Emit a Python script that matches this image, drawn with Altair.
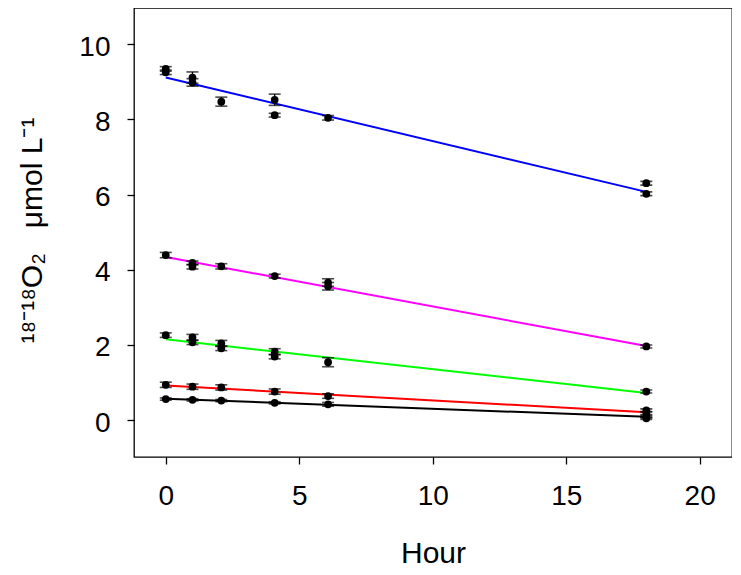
import altair as alt
import pandas as pd

# ---- data ----
SERIES = ["blue", "magenta", "green", "red", "black"]
COLORS = ["#0000FF", "#FF00FF", "#00FF00", "#FF0000", "#000000"]

blue_hours = [0, 0, 1, 1, 2.08, 4.08, 4.08, 6.08, 18, 18]
blue_vals = [9.34, 9.25, 9.11, 8.98, 8.47, 8.52, 8.11, 8.04, 6.30, 6.02]
blue_errs = [0.06, 0.06, 0.15, 0.10, 0.12, 0.15, 0.05, 0.06, 0.05, 0.05]

magenta_hours = [0, 1, 1, 2.08, 4.08, 6.08, 6.08, 18]
magenta_vals = [4.39, 4.18, 4.08, 4.09, 3.83, 3.66, 3.56, 1.96]
magenta_errs = [0.07, 0.05, 0.06, 0.07, 0.05, 0.10, 0.10, 0.04]

green_hours = [0, 1, 1, 2.08, 2.08, 4.08, 4.08, 6.08, 18]
green_vals = [2.26, 2.20, 2.07, 2.04, 1.91, 1.82, 1.69, 1.54, 0.76]
green_errs = [0.06, 0.08, 0.06, 0.08, 0.06, 0.08, 0.06, 0.12, 0.04]

red_hours = [0, 1, 2.08, 4.08, 6.08, 18, 18]
red_vals = [0.94, 0.89, 0.87, 0.76, 0.64, 0.26, 0.19]
red_errs = [0.07, 0.07, 0.07, 0.07, 0.06, 0.04, 0.04]

black_hours = [0, 1, 2.08, 4.08, 6.08, 18, 18]
black_vals = [0.56, 0.54, 0.52, 0.46, 0.42, 0.09, 0.05]
black_errs = [0.03, 0.03, 0.03, 0.03, 0.05, 0.03, 0.03]

# fitted lines as drawn in the reference (value at hour 0 and hour 18)
line_hours = [0, 18]
line_start = [9.11, 4.34, 2.15, 0.92, 0.57]
line_end = [6.07, 1.97, 0.72, 0.21, 0.09]

X_TICKS = [0, 5, 10, 15, 20]
Y_TICKS = [0, 2, 4, 6, 8, 10]

# ---- build tables ----
groups = [
    ("blue", blue_hours, blue_vals, blue_errs),
    ("magenta", magenta_hours, magenta_vals, magenta_errs),
    ("green", green_hours, green_vals, green_errs),
    ("red", red_hours, red_vals, red_errs),
    ("black", black_hours, black_vals, black_errs),
]
rows = []
for name, hs, vs, es in groups:
    for h, v, e in zip(hs, vs, es):
        rows.append({"series": name, "hour": h, "value": v, "lo": v - e, "hi": v + e})
pts = pd.DataFrame(rows)

lrows = []
for name, a, b in zip(SERIES, line_start, line_end):
    lrows.append({"series": name, "hour": line_hours[0], "value": a})
    lrows.append({"series": name, "hour": line_hours[1], "value": b})
lines = pd.DataFrame(lrows)

FONT = "Liberation Sans"
FS = 28

X = alt.X(
    "hour:Q",
    scale=alt.Scale(domain=[-1.19, 21.21], nice=False, zero=False),
    axis=alt.Axis(
        values=X_TICKS, title="Hour", titleFontSize=30, titleFont=FONT,
        titleFontWeight="normal", titleColor="black",
        titleBaseline="alphabetic", titleY=105,
        labelBaseline="alphabetic", labelPadding=40,
        labelFont=FONT, labelFontSize=FS, labelColor="black",
        grid=False, domain=False, ticks=True, tickColor="black", tickSize=7, tickWidth=1.3,
    ),
)
Y = alt.Y(
    "value:Q",
    scale=alt.Scale(domain=[-0.98, 10.96], nice=False, zero=False),
    axis=alt.Axis(
        values=Y_TICKS,
        title="\u00b9\u2078\u207b\u00b9\u2078O\u2082\u00a0\u00a0\u00a0\u03bcmol L\u207b\u00b9",
        titleFontSize=30, titleFont=FONT, titleFontWeight="normal",
        titleColor="black", titleAngle=270, titleBaseline="alphabetic",
        titleAlign="center", titleX=-93, titleY=222,
        labelPadding=17, labelOffset=3, labelBaseline="middle",
        labelFont=FONT, labelFontSize=FS, labelColor="black",
        grid=False, domain=False, ticks=True, tickColor="black", tickSize=7, tickWidth=1.3,
    ),
)
COLOR = alt.Color("series:N", scale=alt.Scale(domain=SERIES, range=COLORS), legend=None)

line_layer = alt.Chart(lines).mark_line(strokeWidth=2).encode(
    x=X, y=Y, color=COLOR, detail="series:N"
)
bars = alt.Chart(pts).mark_rule(color="black", strokeWidth=1.3).encode(
    x=X, y=alt.Y("lo:Q"), y2="hi:Q"
)
cap_lo = alt.Chart(pts).mark_tick(orient="horizontal", size=12, thickness=1.6, color="black").encode(
    x=X, y=alt.Y("lo:Q")
)
cap_hi = alt.Chart(pts).mark_tick(orient="horizontal", size=12, thickness=1.6, color="black").encode(
    x=X, y=alt.Y("hi:Q")
)
dots = alt.Chart(pts).mark_point(filled=True, shape="circle", size=60, color="black", opacity=1).encode(
    x=X, y=Y
)

chart = alt.layer(line_layer, bars, cap_lo, cap_hi, dots).properties(
    width=598, height=449,
    background="white",
    autosize=alt.AutoSizeParams(type="none"),
    padding={"left": 126, "top": 0, "right": 0, "bottom": 110},
).configure_view(
    stroke="black", strokeWidth=1.3
)

chart.save("out.html", embed_options={"renderer": "svg", "actions": False})
